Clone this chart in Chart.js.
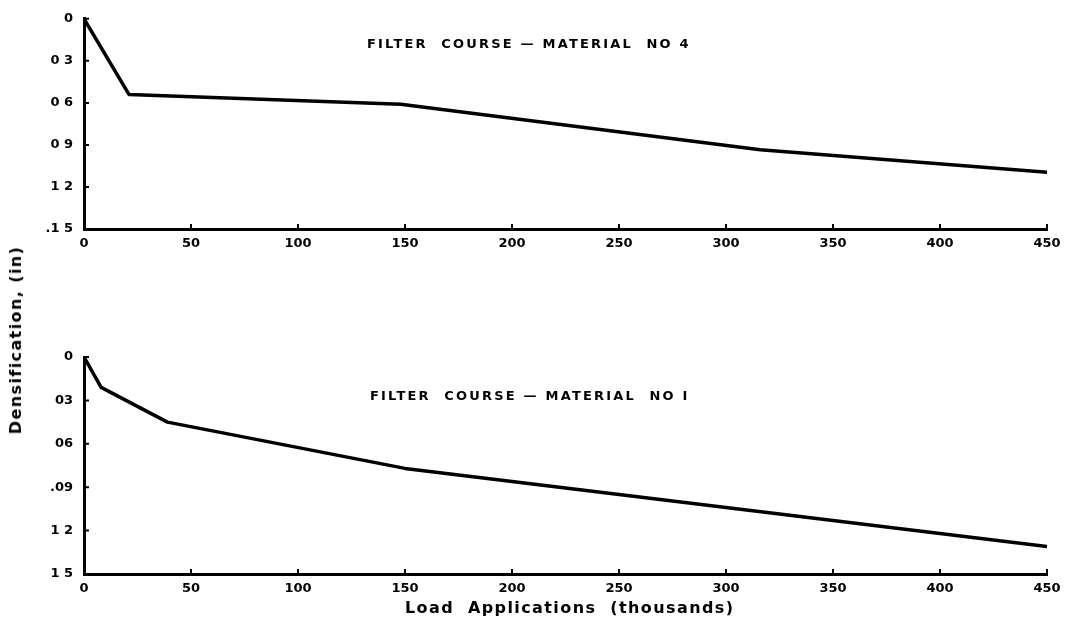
<!DOCTYPE html>
<html>
<head>
<meta charset="utf-8">
<script src="https://cdn.jsdelivr.net/npm/chart.js@4/dist/chart.umd.min.js"></script>
<style>
  html, body { margin: 0; padding: 0; background: #fff; }
  #wrap { position: relative; width: 1074px; height: 622px; overflow: hidden; }
  canvas { position: absolute; left: 0; }
  .lbl { position: absolute; font-family: "DejaVu Sans", sans-serif; font-weight: bold; color: #000; white-space: pre; line-height: 1; }
  .panelTitle { font-size: 13px; letter-spacing: 2.2px; }
  .axisTitle { font-size: 16px; letter-spacing: 1.4px; }
</style>
</head>
<body>
<div id="wrap">
  <canvas id="top" width="1074" height="260" style="top:0"></canvas>
  <canvas id="bottom" width="1074" height="300" style="top:300px"></canvas>
  <div class="lbl panelTitle" style="left:367px; top:37px;">FILTER  COURSE — MATERIAL  NO 4</div>
  <div class="lbl panelTitle" style="left:370px; top:389px;">FILTER  COURSE — MATERIAL  NO I</div>
  <div class="lbl axisTitle" style="left:405px; top:600px;">Load  Applications  (thousands)</div>
  <div class="lbl axisTitle" style="left:16px; top:340px; transform: translate(-50%, -50%) rotate(-90deg);">Densification, (in)</div>
</div>
<script>
// Load applications (thousands) and densification (in) for each filter material
const loadsNo4 = [0, 21, 148, 316, 450];
const densNo4 = [0, 0.054, 0.061, 0.0935, 0.1095];
const loadsNo1 = [0, 8, 39, 150, 300, 450];
const densNo1 = [0, 0.021, 0.045, 0.077, 0.104, 0.131];

// Axis tick labels as lettered on each panel (y labels from 0 down to .15)
const xTickLabels = ['0', '50', '100', '150', '200', '250', '300', '350', '400', '450'];
const yTickLabelsNo4 = ['0', '0 3', '0 6', '0 9', '1 2', '.1 5'];
const yTickLabelsNo1 = ['0', '03', '06', '.09', '1 2', '1 5'];

const FONT = "'DejaVu Sans', sans-serif";
const Y_STEP = 0.03;
const X_STEP = 50;

// short inward tick marks on both axes
const innerTicks = {
  id: 'innerTicks',
  afterDraw(chart) {
    const ctx = chart.ctx;
    const xs = chart.scales.x, ys = chart.scales.y;
    ctx.save();
    ctx.strokeStyle = '#000';
    ctx.lineWidth = 2;
    ctx.beginPath();
    xs.ticks.forEach(t => {
      const px = xs.getPixelForValue(t.value);
      ctx.moveTo(px, ys.bottom);
      ctx.lineTo(px, ys.bottom - 5);
    });
    ys.ticks.forEach(t => {
      const py = ys.getPixelForValue(t.value);
      ctx.moveTo(xs.left, py);
      ctx.lineTo(xs.left + 5, py);
    });
    ctx.stroke();
    ctx.restore();
  }
};

function makeChart(id, loads, dens, yLabels, padTop, canvasH, chartBottom) {
  const points = loads.map((v, i) => ({ x: v, y: dens[i] }));
  return new Chart(document.getElementById(id), {
    type: 'line',
    data: {
      datasets: [{
        data: points,
        borderColor: '#000',
        borderWidth: 3.5,
        pointRadius: 0,
        tension: 0,
        borderCapStyle: 'round',
        borderJoinStyle: 'round'
      }]
    },
    options: {
      responsive: false,
      animation: false,
      events: [],
      layout: { padding: { top: padTop, right: 27, left: 0, bottom: 0 } },
      plugins: { legend: { display: false }, tooltip: { enabled: false } },
      scales: {
        x: {
          type: 'linear',
          min: 0, max: 450,
          afterFit(s) { s.height = canvasH - chartBottom; },
          border: { display: true, color: '#000', width: 3 },
          grid: { display: false, drawTicks: false },
          ticks: {
            stepSize: X_STEP,
            padding: 7,
            color: '#000',
            font: { family: FONT, size: 13, weight: 'bold' },
            maxRotation: 0,
            callback: v => xTickLabels[Math.round(v / X_STEP)]
          }
        },
        y: {
          type: 'linear',
          reverse: true,
          min: 0, max: 0.15,
          afterFit(s) { s.width = 84; },
          border: { display: true, color: '#000', width: 3 },
          grid: { display: false, drawTicks: false },
          ticks: {
            stepSize: Y_STEP,
            padding: 11,
            color: '#000',
            font: { family: FONT, size: 13, weight: 'bold' },
            callback: v => yLabels[Math.round(v / Y_STEP)]
          }
        }
      }
    },
    plugins: [innerTicks]
  });
}

makeChart('top', loadsNo4, densNo4, yTickLabelsNo4, 14, 260, 229);
makeChart('bottom', loadsNo1, densNo1, yTickLabelsNo1, 57, 300, 274);
</script>
</body>
</html>
